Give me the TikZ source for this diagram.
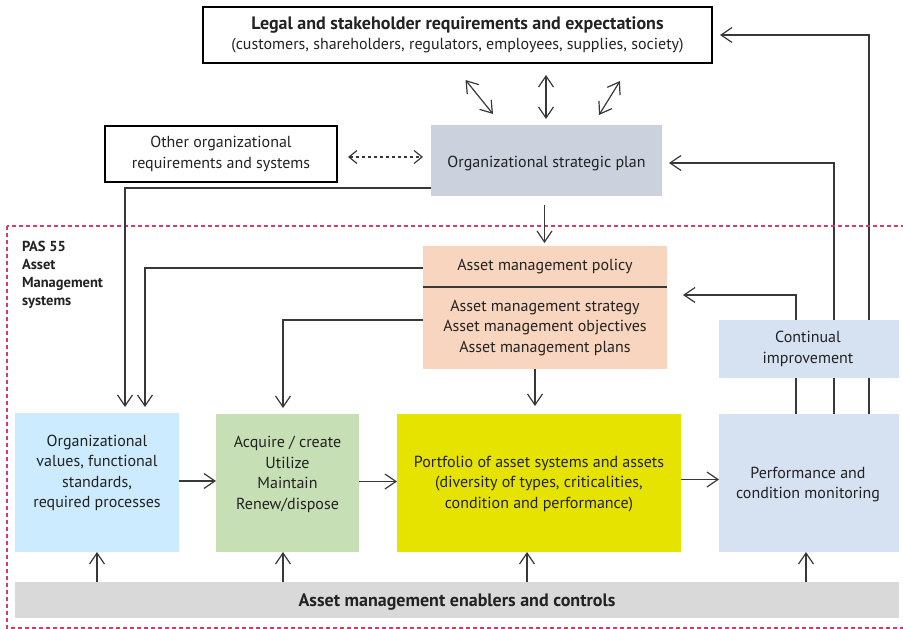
\documentclass[tikz,border=0pt]{standalone}
\usepackage{fontspec}
\setmainfont{PT Sans}
\usetikzlibrary{arrows.meta,calc,backgrounds}
\definecolor{ospc}{HTML}{CBD2DE}
\definecolor{polc}{HTML}{F8D5BE}
\definecolor{ovc}{HTML}{CCEBFE}
\definecolor{acqc}{HTML}{C6DFB4}
\definecolor{portc}{HTML}{E6E300}
\definecolor{pmc}{HTML}{D6E2F2}
\definecolor{enc}{HTML}{D9D9D9}
\definecolor{redd}{HTML}{D03E64}
\definecolor{linec}{HTML}{383838}
\definecolor{txtc}{HTML}{222222}
\begin{document}
\begin{tikzpicture}[x=1pt,y=-1pt,
  every node/.style={inner sep=0pt,outer sep=0pt,text=txtc},
  txt/.style={align=center,font=\fontsize{16}{20.5}\selectfont},
  box/.style={draw=none,txt},
  blackbox/.style={draw=black,line width=2.2pt,txt},
  conn/.style={draw=linec,line width=1.2pt},
  arr/.style={conn,-{Straight Barb[length=11pt,width=15pt]}},
  darr/.style={conn,{Straight Barb[length=11pt,width=15pt]}-{Straight Barb[length=11pt,width=15pt]}},
  sdarr/.style={conn,{Straight Barb[length=8pt,width=13pt]}-{Straight Barb[length=8pt,width=13pt]}},
]
\useasboundingbox (0,0) rectangle (903,629);
\begin{scope}
\clip (0,0) rectangle (903,629);
\draw[redd,line width=1.3pt,dash pattern=on 4pt off 3pt] (7,226) rectangle (915,628);
\end{scope}

% boxes
\node[blackbox,minimum width=509pt,minimum height=56pt] (legal) at (457.5,35)
  {\textbf{\fontsize{18}{19}\selectfont Legal and stakeholder requirements and expectations}\\[-1pt](customers, shareholders, regulators, employees, supplies, society)};
\node[blackbox,minimum width=232pt,minimum height=56pt] (other) at (221,154)
  {Other organizational\\requirements and systems};
\node[box,fill=ospc,minimum width=231pt,minimum height=71pt] (osp) at (546.5,160.5) {};
\node[txt] (ospt) at (546.5,163) {Organizational strategic plan};
\node[box,fill=polc,minimum width=244pt,minimum height=123pt] (pol) at (545,307.5) {};
\node[txt] (poltop) at (545,267) {Asset management policy};
\node[txt] (polbot) at (545,328) {Asset management strategy\\Asset management objectives\\Asset management plans};
\draw[conn] ($(pol.north west)+(0,41)$) coordinate (pdl) -- ($(pol.north east)+(0,41)$) coordinate (pdr);

\node[box,fill=ovc,minimum width=164pt,minimum height=139pt] (ov) at (97,482.5) {};
\node[txt] (ovt) at (97,473) {Organizational\\values, functional\\standards,\\required processes};
\node[box,fill=acqc,minimum width=143pt,minimum height=138pt] (acq) at (287.5,483) {};
\node[txt] (acqt) at (287.5,474.5) {Acquire / create\\Utilize\\Maintain\\Renew/dispose};
\node[box,fill=portc,minimum width=284pt,minimum height=138pt] (port) at (539,483) {};
\node[txt] (portt) at (539,484) {Portfolio of asset systems and assets\\(diversity of types, criticalities,\\condition and performance)};
\node[box,fill=pmc,minimum width=180pt,minimum height=138pt] (pm) at (809,483) {};
\node[txt] (pmt) at (808,484.5) {Performance and\\condition monitoring};
\node[box,fill=pmc,minimum width=180pt,minimum height=58pt] (ci) at (809,349) {};
\node[txt] (cit) at (808,349) {Continual\\improvement};
\node[box,fill=enc,minimum width=884pt,minimum height=36pt] (en) at (457,600) {};
\node[font=\bfseries\fontsize{18}{18}\selectfont] (ent) at (457,602)
  {Asset management enablers and controls};
\node[anchor=north west,align=left,font=\bfseries\fontsize{14.5}{18}\selectfont] (pas) at (22,241)
  {PAS 55\\Asset\\Management\\systems};

% connectors behind
\begin{scope}[on background layer]
\draw[arr] ($(pm.north west)+(77,0)$) |- ($(pol.north east)+(16,49)$);
\draw[arr] ($(pm.north west)+(115,0)$) |- ($(osp.east)+(7,2.5)$);
\draw[arr] ($(pm.north west)+(150,0)$) |- ($(legal.east)+(8,0)$);
\end{scope}

\draw[arr,shorten >=6pt] ($(osp.south west)+(0,-8)$) -| ($(ov.north west)+(110,0)$);
\draw[arr,shorten >=6pt] ($(pol.north west)+(0,22)$) -| ($(ov.north west)+(130,0)$);
\draw[arr,shorten >=6pt] ($(pol.north west)+(0,74)$) -| ($(acq.north west)+(67,0)$);
\draw[arr,shorten <=9pt,shorten >=3pt] ([xshift=-2pt]osp.south) -- ([xshift=-2pt]osp.south |- pol.north);
\draw[arr,shorten >=8pt] ([xshift=-10pt]pol.south) -- ([xshift=-10pt]pol.south |- port.north);
\draw[arr] ([yshift=1.5pt]ov.east) -- ([yshift=1.5pt]ov.east -| acq.west);
\draw[arr] ([yshift=1.5pt]acq.east) -- ([yshift=1.5pt]port.west);
\draw[arr] ([yshift=3.5pt]port.east) -- ([yshift=3.5pt]pm.west);
\draw[arr] (en.north -| ov.south) -- (ov.south);
\draw[arr] ([xshift=-4.5pt]en.north -| acq.south) -- ([xshift=-4.5pt]acq.south);
\draw[arr] ([xshift=-12pt]en.north -| port.south) -- ([xshift=-12pt]port.south);
\draw[arr] ([xshift=-3pt]en.north -| pm.south) -- ([xshift=-3pt]pm.south);
\draw[sdarr,dash pattern=on 3pt off 3pt,shorten <=11pt,shorten >=8pt] ([yshift=-3pt]other.east) -- ([yshift=-3pt]other.east -| osp.west);

\coordinate (d1a) at (465.5,80); \coordinate (d1b) at (493,114);
\coordinate (d2a) at (546,75);   \coordinate (d2b) at (546,119);
\coordinate (d3a) at (620,81);   \coordinate (d3b) at (599,115);
\draw[darr] (d1a) -- (d1b);
\draw[darr] (d2a) -- (d2b);
\draw[darr] (d3a) -- (d3b);
\end{tikzpicture}
\end{document}
